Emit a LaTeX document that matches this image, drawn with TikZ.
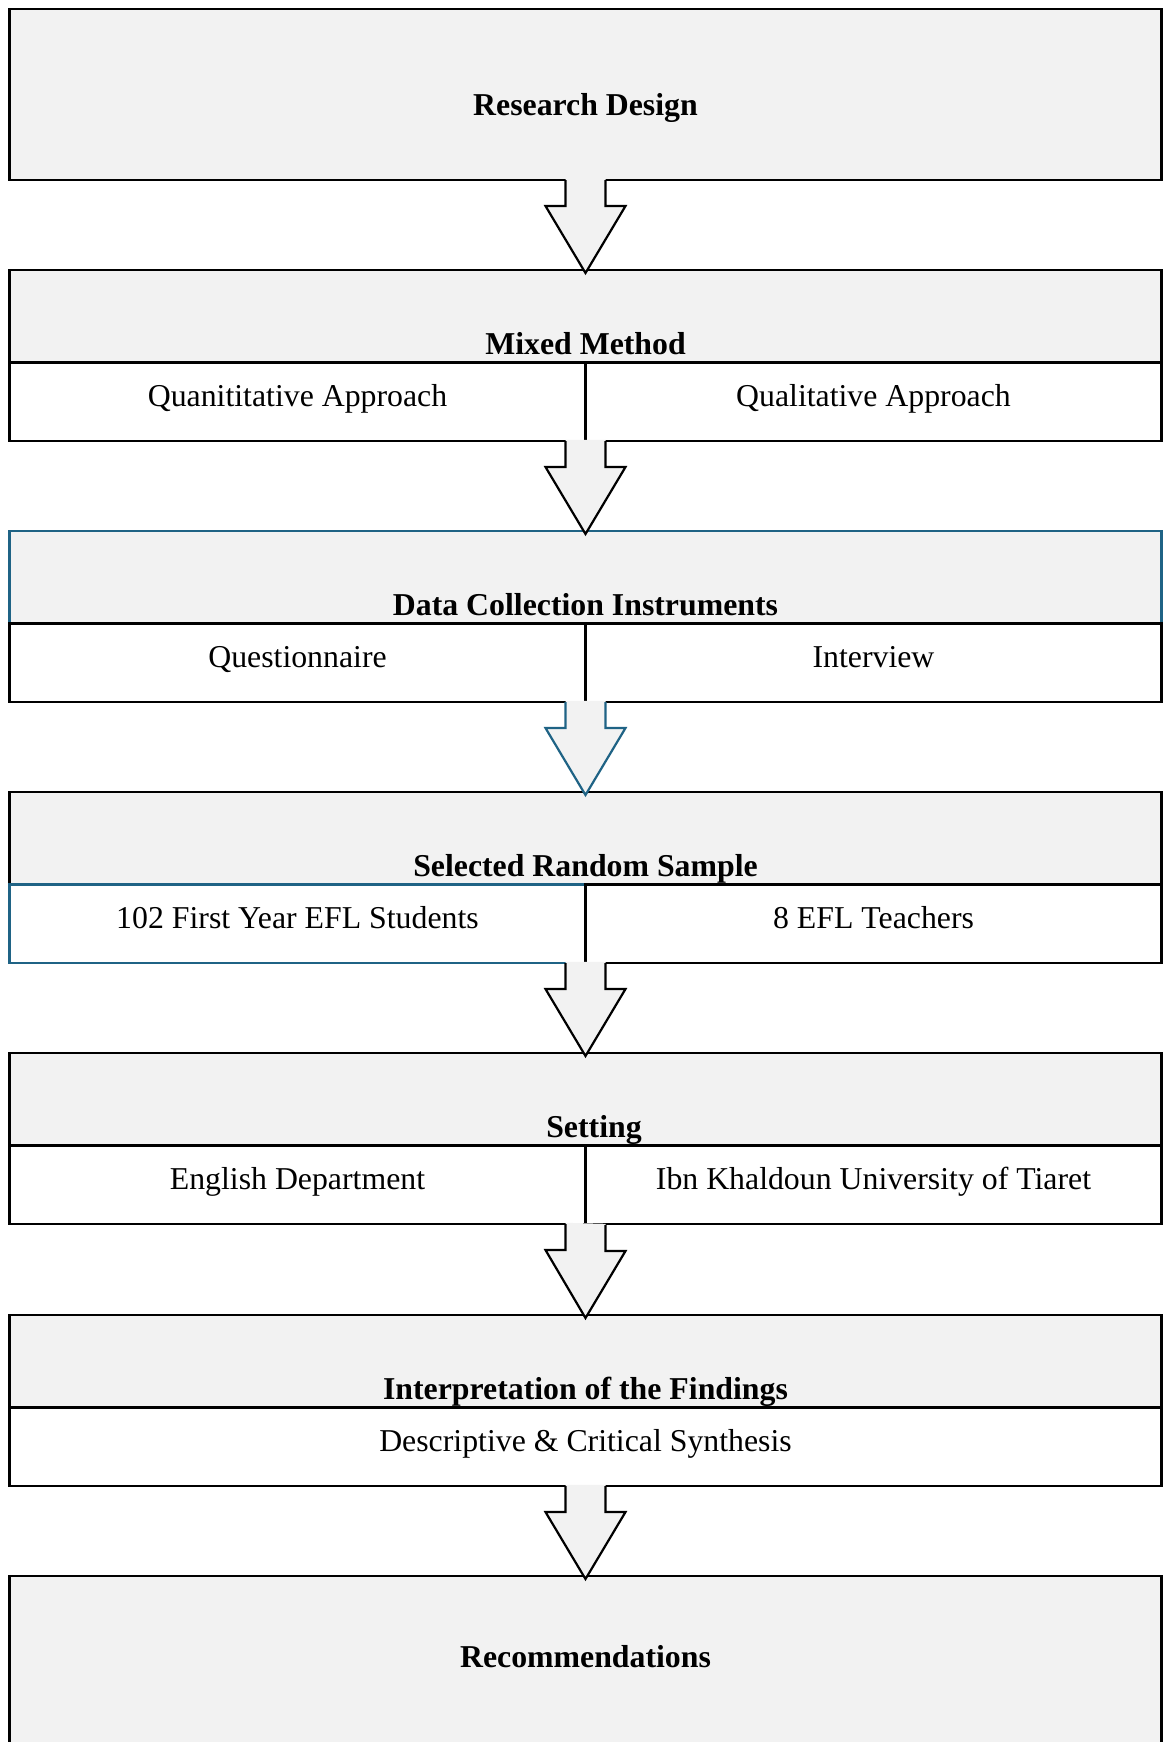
\documentclass[tikz,border=0pt]{standalone}
\usepackage{fontspec}
\setmainfont{Liberation Serif}
\usetikzlibrary{calc}

\definecolor{panelgray}{HTML}{F2F2F2}
\definecolor{accentblue}{HTML}{1F6385}

\tikzset{
  x=0.5pt, y=-0.5pt,
  frame/.style={draw=black, line width=1.1pt},
  headbox/.style={frame, fill=panelgray, minimum width=576pt, inner sep=0pt, outer sep=0pt, anchor=north},
  fullbox/.style={headbox, minimum height=85.5pt},
  topbox/.style={headbox, minimum height=46.25pt},
  cellbox/.style={frame, fill=white, minimum width=288pt, minimum height=39.25pt, inner sep=0pt, outer sep=0pt, anchor=north west},
  widecell/.style={cellbox, minimum width=576pt},
  title/.style={font=\bfseries\fontsize{15.9}{19}\selectfont, anchor=base, inner sep=0pt},
  item/.style={font=\fontsize{15.9}{19}\selectfont, anchor=base, inner sep=0pt},
  flow/.style={line width=1.1pt, line join=miter},
}

% block arrow from the bottom edge of one box to the top edge of the next
\newcommand\flowarrow[3][black]{%
  \fill[panelgray] ($(#2)+(-20,-1.2)$) -- ++(0,27.2) -- ++(-20,0) -- ($(#3)+(0,3)$)
        -- ++(40,-67) -- ++(-20,0) -- ++(0,-27.2) -- cycle;
  \draw[flow, draw=#1] ($(#2)+(-20,0)$) -- ++(0,26) -- ++(-20,0) -- ($(#3)+(0,3)$)
        -- ++(40,-67) -- ++(-20,0) -- ++(0,-26);
}

\begin{document}
\begin{tikzpicture}
\clip (0,0) rectangle (1163,1742);

% Research Design
\node[fullbox] (b1) at (585.5,9) {};
\node[title] (t1) at ($(b1.north)+(0,106)$) {Research Design};

% Mixed Method
\node[topbox] (b2) at (585.5,270) {};
\node[title] (t2) at ($(b2.south)+(0,-8)$) {Mixed Method};
\node[cellbox] (c2l) at (b2.south west) {};
\node[cellbox] (c2r) at (b2.south) {};
\node[item] (s2l) at ($(c2l.north)+(0,44)$) {Quanititative Approach};
\node[item] (s2r) at ($(c2r.north)+(0,44)$) {Qualitative Approach};

% Data Collection Instruments
\node[topbox, draw=accentblue] (b3) at (585.5,531) {};
\node[title] (t3) at ($(b3.south)+(0,-8)$) {Data Collection Instruments};
\node[cellbox] (c3l) at (b3.south west) {};
\node[cellbox] (c3r) at (b3.south) {};
\node[item] (s3l) at ($(c3l.north)+(0,44)$) {Questionnaire};
\node[item] (s3r) at ($(c3r.north)+(0,44)$) {Interview};

% Selected Random Sample
\node[topbox] (b4) at (585.5,792) {};
\node[title] (t4) at ($(b4.south)+(0,-8)$) {Selected Random Sample};
\node[cellbox, draw=accentblue] (c4l) at (b4.south west) {};
\node[cellbox] (c4r) at (b4.south) {};
\node[item] (s4l) at ($(c4l.north)+(0,44)$) {102 First Year EFL Students};
\node[item] (s4r) at ($(c4r.north)+(0,44)$) {8 EFL Teachers};

% Setting
\node[topbox] (b5) at (585.5,1053) {};
\node[title] (t5) at ($(b5.south)+(8.5,-8)$) {Setting};
\node[cellbox] (c5l) at (b5.south west) {};
\node[cellbox] (c5r) at (b5.south) {};
\node[item] (s5l) at ($(c5l.north)+(0,44)$) {English Department};
\node[item] (s5r) at ($(c5r.north)+(0,44)$) {Ibn Khaldoun University of Tiaret};

% Interpretation of the Findings
\node[topbox] (b6) at (585.5,1315) {};
\node[title] (t6) at ($(b6.south)+(0,-8)$) {Interpretation of the Findings};
\node[widecell] (c6) at (b6.south west) {};
\node[item] (s6) at ($(c6.north)+(0,44)$) {Descriptive \& Critical Synthesis};

% Recommendations
\node[fullbox] (b7) at (585.5,1576) {};
\node[title] (t7) at ($(b7.north)+(0,91)$) {Recommendations};

% arrows between the stages
\flowarrow{b1.south}{b2.north}
\flowarrow{c2l.south east}{b3.north}
\flowarrow[accentblue]{c3l.south east}{b4.north}
\flowarrow{c4r.south west}{b5.north}
\flowarrow{c5l.south east}{b6.north}
\flowarrow{c6.south}{b7.north}
\end{tikzpicture}
\end{document}
